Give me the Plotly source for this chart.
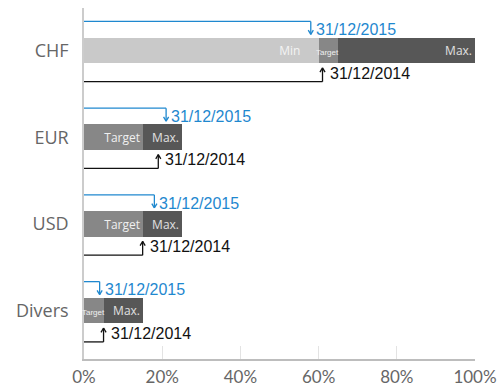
import plotly.graph_objects as go

# Allocation bands per currency (percent of portfolio)
categories = ["CHF", "EUR", "USD", "Divers"]
min_pct = [60, 0, 0, 0]
target_pct = [5, 15, 15, 5]
max_pct = [35, 10, 10, 10]

# Actual allocation at the two reporting dates
pos_2015 = [58, 21, 18, 4]
pos_2014 = [61, 19, 15, 5]
label_2015 = "31/12/2015"
label_2014 = "31/12/2014"

x_ticks = [0, 20, 40, 60, 80, 100]
x_ticklabels = ["0%", "20%", "40%", "60%", "80%", "100%"]

BLUE = "#1f88cf"
BLACK = "#111111"
ypos = list(range(len(categories)))
bar_w = 0.294
NARROW = 8  # segments narrower than this (in %) get a compact label
PAD = "\u00a0" * 5  # keeps the Min label clear of a compact Target label

fig = go.Figure()
annotations = []

segments = [
    ("Min", min_pct, "#c9c9c9", "#f4f4f4"),
    ("Target", target_pct, "#878787", "#f0f0f0"),
    ("Max.", max_pct, "#575757", "#e0e0e0"),
]
offsets = [0] * len(categories)
for k, (name, vals, color, tcolor) in enumerate(segments):
    texts = []
    for i, v in enumerate(vals):
        if v <= 0:
            texts.append("")
        elif v < NARROW:
            texts.append("")
            annotations.append(dict(
                x=offsets[i] + v, y=i + 0.02, xref="x", yref="y", text=name,
                showarrow=False, xanchor="right", yanchor="middle", xshift=1,
                borderpad=0, borderwidth=0,
                font=dict(family="Liberation Sans", size=8, color=tcolor)))
        else:
            nxt = segments[k + 1][1][i] if k + 1 < len(segments) else NARROW
            texts.append(name + (PAD if nxt < NARROW else ""))
    fig.add_trace(go.Bar(
        y=ypos, x=vals, orientation="h", width=bar_w,
        marker=dict(color=color, line=dict(width=0)),
        text=texts,
        textposition="inside", insidetextanchor="end", textangle=0,
        textfont=dict(family="Open Sans", size=12, color=tcolor),
        hoverinfo="skip", showlegend=False,
    ))
    offsets = [o + v for o, v in zip(offsets, vals)]

shapes = []
ah_dx = 0.65   # arrowhead half-width (x units, %)
ah_dy = 0.05   # arrowhead height (y units)
date_font = "Liberation Sans"
for i, (v15, v14) in enumerate(zip(pos_2015, pos_2014)):
    # 2015 marker: line above the bar, arrow pointing down
    yl, yt = i - 0.335, i - 0.185
    for x0, y0, x1, y1 in [(0, yl, v15, yl), (v15, yl, v15, yt),
                           (v15 - ah_dx, yt - ah_dy, v15, yt),
                           (v15 + ah_dx, yt - ah_dy, v15, yt)]:
        shapes.append(dict(type="line", xref="x", yref="y", x0=x0, y0=y0, x1=x1, y1=y1,
                           line=dict(color=BLUE, width=1.3)))
    annotations.append(dict(x=v15, y=(yl + yt) / 2 + 0.02, xref="x", yref="y", text=label_2015,
                            showarrow=False, xanchor="left", yanchor="middle", xshift=3,
                            font=dict(family=date_font, size=16, color=BLUE)))
    # 2014 marker: line below the bar, arrow pointing up
    yl, yt = i + 0.36, i + 0.2
    for x0, y0, x1, y1 in [(0, yl, v14, yl), (v14, yl, v14, yt),
                           (v14 - ah_dx, yt + ah_dy, v14, yt),
                           (v14 + ah_dx, yt + ah_dy, v14, yt)]:
        shapes.append(dict(type="line", xref="x", yref="y", x0=x0, y0=y0, x1=x1, y1=y1,
                           line=dict(color=BLACK, width=1.3)))
    annotations.append(dict(x=v14, y=(yl + yt) / 2 - 0.02, xref="x", yref="y", text=label_2014,
                            showarrow=False, xanchor="left", yanchor="middle", xshift=5,
                            font=dict(family=date_font, size=16, color=BLACK)))

fig.update_layout(
    width=498, height=389,
    margin=dict(l=84, r=23, t=8, b=30),
    paper_bgcolor="white", plot_bgcolor="white",
    barmode="stack", bargap=0,
    shapes=shapes, annotations=annotations,
    xaxis=dict(range=[0, 100], tickvals=x_ticks, ticktext=x_ticklabels,
               showgrid=False, zeroline=False, automargin=False,
               showline=True, linecolor="#bdbdbd", linewidth=1.5,
               ticks="inside", ticklen=13, tickcolor="#e3e3e3", tickwidth=1,
               ticklabelstandoff=2,
               tickfont=dict(family="Lato", size=17, color="#666666")),
    yaxis=dict(range=[3.557, -0.49], tickvals=ypos, ticktext=categories,
               showgrid=False, zeroline=False, automargin=False,
               showline=True, linecolor="#cccccc", linewidth=1.5,
               ticks="", ticklabelstandoff=10,
               tickfont=dict(family="Open Sans", size=18, color="#666666")),
)

fig.write_html("out.html")
